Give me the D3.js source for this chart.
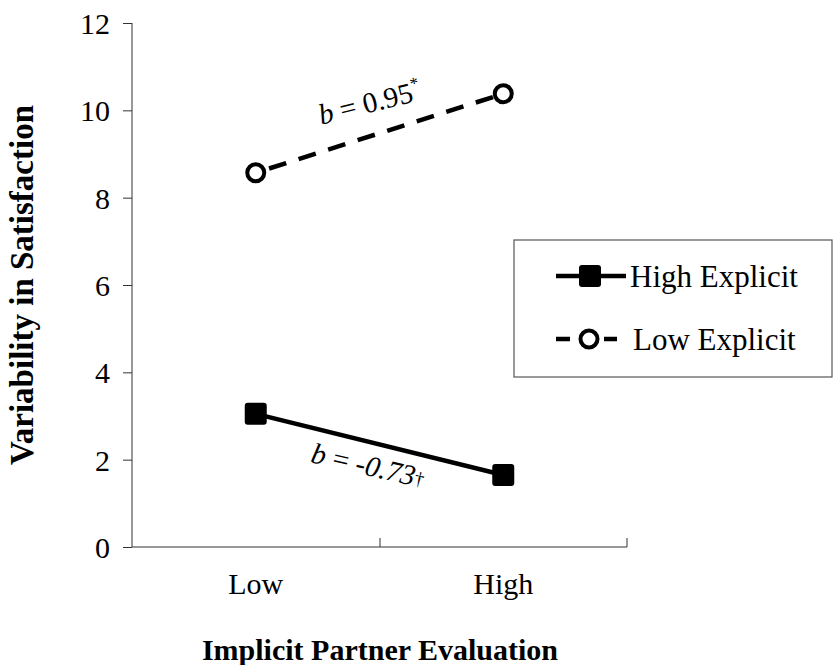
<html>
<head>
<script type="text/javascript" src="https://cdn.jsdelivr.net/npm/d3@7/dist/d3.min.js"></script>
<style type="text/css">
body { margin:0; background:white; }
text, tspan { font-family: "Liberation Serif", "Times New Roman", serif; fill:black; }
</style>
</head>
<body>
<script>
  var categories = ["Low", "High"];
  var seriesNames = ["High Explicit", "Low Explicit"];
  var highExplicit = [3.05, 1.65];
  var lowExplicit = [8.57, 10.38];
  var yTicks = [0, 2, 4, 6, 8, 10, 12];
  var slopeLabels = ["0.95", "-0.73"];

  var svg = d3.select("body").append("svg").attr("width", 834).attr("height", 665);

  var x = d3.scaleBand().domain(categories).range([132, 627]);
  var y = d3.scaleLinear().domain([0, 12]).range([547, 23]);

  // y axis
  var yAxis = svg.append("g").attr("transform", "translate(132,0)")
    .call(d3.axisLeft(y).tickValues(yTicks).tickSize(9).tickPadding(13));
  yAxis.attr("font-family", null);
  yAxis.selectAll("text").attr("font-size", 30).attr("dy", "0.35em");
  yAxis.select(".domain").attr("d", "M0,23V547").attr("stroke", "#333");
  yAxis.selectAll(".tick line").attr("stroke", "#333");

  // x axis
  var xAxis = svg.append("g").attr("transform", "translate(0,547)")
    .call(d3.axisBottom(x).tickSize(0).tickPadding(26));
  xAxis.attr("font-family", null);
  xAxis.select(".domain").attr("d", "M132,0H627").attr("stroke", "#333");
  xAxis.selectAll("text").attr("font-size", 30);
  // boundary ticks
  xAxis.selectAll(".bt").data([380, 627]).enter().append("line").attr("class", "bt")
    .attr("x1", function(d){ return d; }).attr("x2", function(d){ return d; })
    .attr("y1", 0).attr("y2", -9).attr("stroke", "#333");

  svg.append("text").text("Variability in Satisfaction").attr("font-weight", "bold").attr("font-size", 33)
    .attr("text-anchor", "middle").attr("transform", "translate(33,285) rotate(-90)");
  svg.append("text").text("Implicit Partner Evaluation").attr("font-weight", "bold").attr("font-size", 30)
    .attr("text-anchor", "middle").attr("x", 380).attr("y", 660);

  function cx(d, i){ return x(categories[i]) + x.bandwidth() / 2; }

  var line = d3.line().x(function(d, i){ return cx(d, i); }).y(function(d){ return y(d); });

  svg.append("path").datum(lowExplicit).attr("d", line).attr("fill", "none")
    .attr("stroke", "black").attr("stroke-width", 4.5).attr("stroke-dasharray", "18,13").attr("stroke-dashoffset", -14);
  svg.append("path").datum(highExplicit).attr("d", line).attr("fill", "none")
    .attr("stroke", "black").attr("stroke-width", 4.5);

  svg.selectAll(".sq").data(highExplicit).enter().append("rect").attr("class", "sq")
    .attr("x", function(d, i){ return cx(d, i) - 11; }).attr("y", function(d){ return y(d) - 11; })
    .attr("width", 22).attr("height", 22).attr("rx", 3).attr("fill", "black");
  svg.selectAll(".ci").data(lowExplicit).enter().append("circle").attr("class", "ci")
    .attr("cx", cx).attr("cy", function(d){ return y(d); }).attr("r", 8.5)
    .attr("fill", "white").attr("stroke", "black").attr("stroke-width", 4);

  // slope annotations
  var a1 = svg.append("text").attr("font-size", 29)
    .attr("transform", "translate(372,112) rotate(-14)").attr("text-anchor", "middle");
  a1.append("tspan").text("b").attr("font-style", "italic");
  a1.append("tspan").text(" = " + slopeLabels[0]);
  a1.append("tspan").text("*").attr("font-size", 17).attr("dy", -12);

  var a2 = svg.append("text").attr("font-size", 29)
    .attr("transform", "translate(366,475) rotate(13)").attr("text-anchor", "middle");
  a2.append("tspan").text("b").attr("font-style", "italic");
  a2.append("tspan").text(" = ");
  a2.append("tspan").text(slopeLabels[1]).attr("font-style", "italic");
  a2.append("tspan").text("\u2020").attr("font-size", 19).attr("dy", -2);

  // legend
  var lg = svg.append("g");
  lg.append("rect").attr("x", 514).attr("y", 240).attr("width", 318).attr("height", 137)
    .attr("fill", "white").attr("stroke", "#555").attr("stroke-width", 1.2);
  var rows = lg.selectAll(".row").data(seriesNames).enter().append("g").attr("class", "row")
    .attr("transform", function(d, i){ return "translate(0," + (276 + i * 63) + ")"; });
  rows.append("line").attr("x1", 556).attr("x2", function(d, i){ return i ? 617 : 626; })
    .attr("y1", 0).attr("y2", 0).attr("stroke", "black").attr("stroke-width", 4.5)
    .attr("stroke-dasharray", function(d, i){ return i ? "14,34,14" : null; });
  rows.filter(function(d, i){ return i == 0; }).append("rect").attr("x", 579).attr("y", -11)
    .attr("width", 22).attr("height", 22).attr("rx", 3).attr("fill", "black");
  rows.filter(function(d, i){ return i == 1; }).append("circle").attr("cx", 589).attr("cy", 0).attr("r", 8.5)
    .attr("fill", "white").attr("stroke", "black").attr("stroke-width", 4);
  rows.append("text").text(function(d){ return d; }).attr("x", function(d, i){ return i ? 633 : 630; })
    .attr("y", 0).attr("dy", "0.35em").attr("font-size", 31);
</script>
</body>
</html>
